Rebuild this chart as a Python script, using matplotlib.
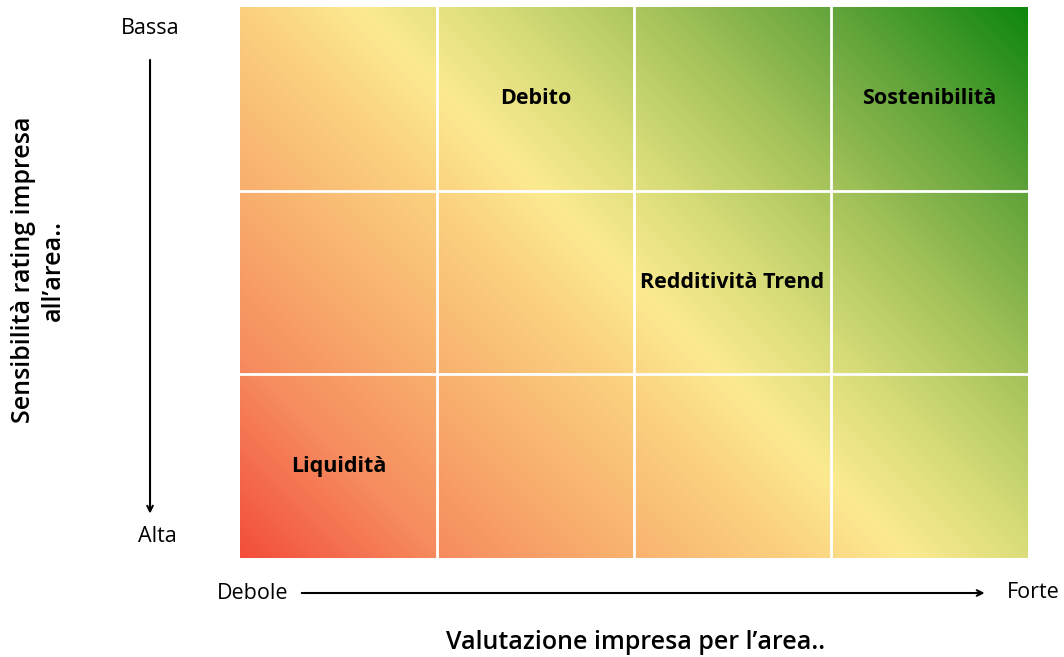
import numpy as np
import matplotlib.pyplot as plt
from matplotlib.colors import LinearSegmentedColormap

plt.rcParams['font.family'] = ['Open Sans', 'Noto Sans', 'DejaVu Sans']

# Dati: aree nella matrice (colonna = valutazione, riga = sensibilità dal basso)
aree = ['Liquidità', 'Debito', 'Redditività Trend', 'Sostenibilità']
col_valutazione = [0, 1, 2, 3]
riga_sensibilita = [0, 2, 1, 2]
n_col, n_righe = 4, 3

x_ticks = ['Debole', 'Forte']
y_ticks = ['Bassa', 'Alta']

# Colori del gradiente rosso -> giallo -> verde
stops = [(0.00, '#f34e3a'), (0.15, '#f68c5f'), (0.30, '#f9b470'),
         (0.42, '#fbd280'), (0.50, '#fcea91'), (0.60, '#d7dc78'),
         (0.72, '#a5c35a'), (0.85, '#64a53c'), (1.00, '#0f870f')]
cmap = LinearSegmentedColormap.from_list('rag', stops)

fig = plt.figure(figsize=(10.64, 6.57), dpi=100)
ax = fig.add_axes([0.2256, 0.1507, 0.7406, 0.8386])

# gradiente diagonale (in proporzione ai pixel dell'area)
pw, ph = 788, 551
gx, gy = np.meshgrid(np.arange(pw), np.arange(ph))
t = (gx + gy) / (pw + ph)
ax.imshow(t, cmap=cmap, origin='lower', extent=(0, n_col, 0, n_righe),
          aspect='auto', interpolation='bilinear')

for c in range(1, n_col):
    ax.axvline(c, color='white', linewidth=2)
for r in range(1, n_righe):
    ax.axhline(r, color='white', linewidth=2)

for nome, c, r in zip(aree, col_valutazione, riga_sensibilita):
    ax.text(c + 0.5, r + 0.5, nome, ha='center', va='center',
            fontsize=15.5, fontweight='bold', color='black')

ax.set_xlim(0, n_col)
ax.set_ylim(0, n_righe)
ax.set_xticks([])
ax.set_yticks([])
for s in ax.spines.values():
    s.set_visible(False)

# frecce degli assi
fig.text(0.141, 0.956, y_ticks[0], ha='center', va='center', fontsize=15.5)
fig.text(0.1475, 0.183, y_ticks[1], ha='center', va='center', fontsize=15.5)
ax.annotate('', xy=(0.141, 0.214), xytext=(0.141, 0.913),
            xycoords='figure fraction', textcoords='figure fraction',
            arrowprops=dict(arrowstyle='->', color='black', lw=1.5))

fig.text(0.237, 0.0974, x_ticks[0], ha='center', va='center', fontsize=15.5)
fig.text(0.971, 0.098, x_ticks[1], ha='center', va='center', fontsize=15.5)
ax.annotate('', xy=(0.928, 0.0974), xytext=(0.281, 0.0974),
            xycoords='figure fraction', textcoords='figure fraction',
            arrowprops=dict(arrowstyle='->', color='black', lw=1.5))

fig.text(0.597, 0.0228, 'Valutazione impresa per l\u2019area..', ha='center',
         va='center', fontsize=18, fontweight='semibold')
fig.text(0.036, 0.589, 'Sensibilità rating impresa\nall\u2019area..', ha='center',
         va='center', rotation=90, fontsize=18, fontweight='semibold',
         linespacing=1.25)

plt.savefig('out.png', dpi=100)
